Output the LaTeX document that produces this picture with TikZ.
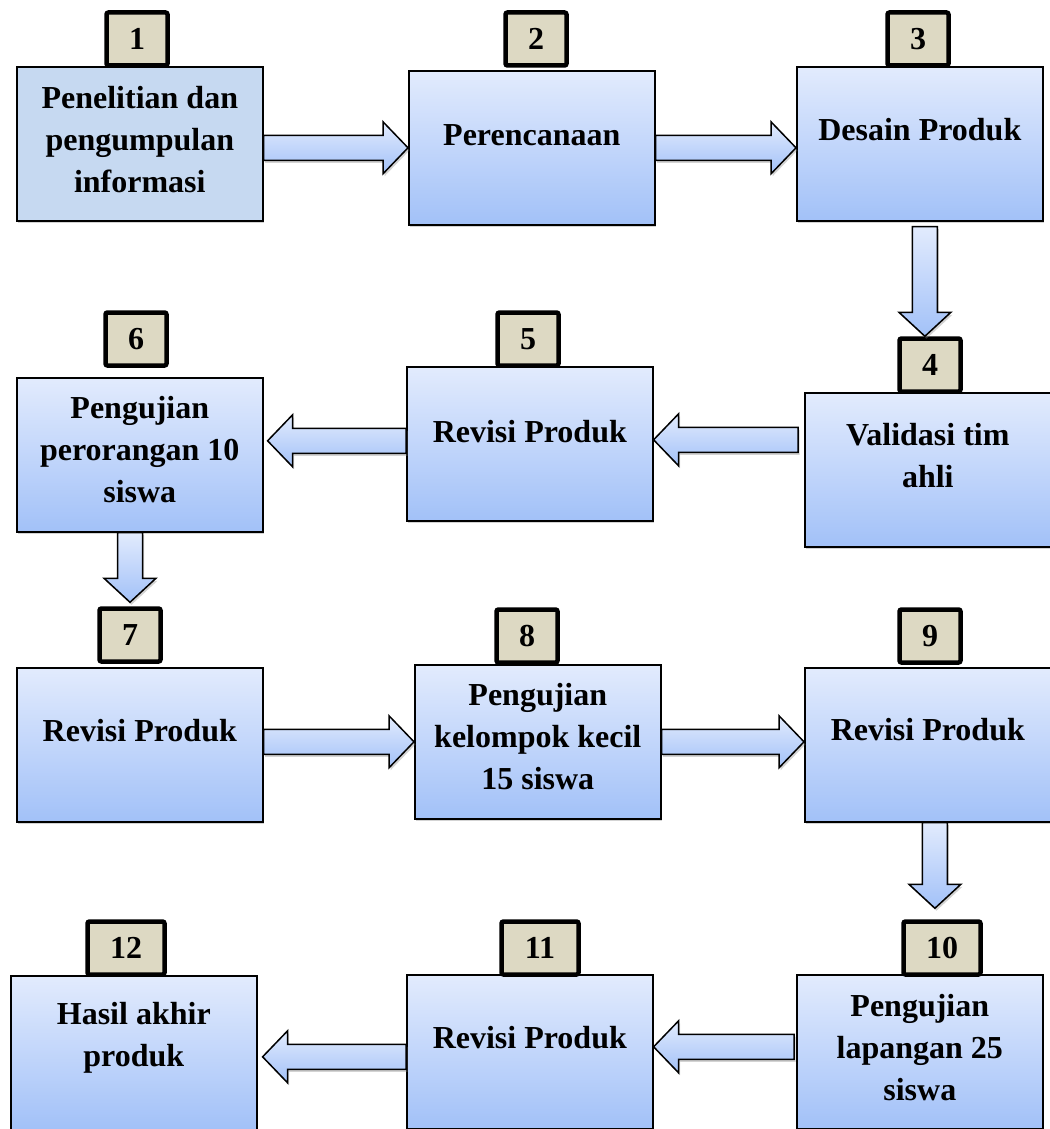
\documentclass[tikz,border=0pt]{standalone}
\usepackage{fontspec}
\setmainfont{Liberation Serif}
\usetikzlibrary{calc, shadows}
\definecolor{boxTop}{HTML}{E2EBFD}
\definecolor{boxBot}{HTML}{A2C1F8}
\definecolor{boxFlat}{HTML}{C6D9F1}
\definecolor{tagBeige}{HTML}{DDD9C3}

% block arrows: tail, tip, reference point for the axis
\newcommand{\rightblock}[3]{%
  \path[barrow] let \p1=(#1), \p2=(#2), \p3=(#3) in
    (\x1,\y3+12.5pt) -- (\x2-25pt,\y3+12.5pt) -- (\x2-25pt,\y3+26pt) -- (\x2,\y3)
    -- (\x2-25pt,\y3-26pt) -- (\x2-25pt,\y3-12.5pt) -- (\x1,\y3-12.5pt) -- cycle;}
\newcommand{\leftblock}[3]{%
  \path[barrow] let \p1=(#1), \p2=(#2), \p3=(#3) in
    (\x1,\y3+12.5pt) -- (\x2+25pt,\y3+12.5pt) -- (\x2+25pt,\y3+26pt) -- (\x2,\y3)
    -- (\x2+25pt,\y3-26pt) -- (\x2+25pt,\y3-12.5pt) -- (\x1,\y3-12.5pt) -- cycle;}
\newcommand{\downblock}[3]{%
  \path[barrow] let \p1=(#1), \p2=(#2), \p3=(#3) in
    (\x3-12.5pt,\y1) -- (\x3-12.5pt,\y2+24pt) -- (\x3-26pt,\y2+24pt) -- (\x3,\y2)
    -- (\x3+26pt,\y2+24pt) -- (\x3+12.5pt,\y2+24pt) -- (\x3+12.5pt,\y1) -- cycle;}

\begin{document}
\begin{tikzpicture}[
    x=1pt, y=-1pt,
    stagebase/.style={draw=black, line width=1.6pt, minimum width=246,
                      minimum height=154, anchor=north west, inner sep=0pt,
                      drop shadow={shadow xshift=1.5pt, shadow yshift=-2.5pt, opacity=0.35}},
    stage/.style={stagebase, top color=boxTop, bottom color=boxBot},
    stageflat/.style={stagebase, fill=boxFlat},
    stagetext/.style={align=center, inner sep=0pt,
                      font=\bfseries\fontsize{32}{42}\selectfont},
    numtag/.style={draw=black, line width=4.5pt, fill=tagBeige, rounded corners=2pt,
                   minimum width=61, minimum height=53, inner sep=0pt,
                   font=\bfseries\fontsize{32}{38}\selectfont},
    numtagwide/.style={numtag, minimum width=77},
    barrow/.style={draw=black, line width=1.5pt, top color=boxTop, bottom color=boxBot,
                   drop shadow={shadow xshift=1.5pt, shadow yshift=-2.5pt, opacity=0.35}},
  ]
  \useasboundingbox (0,0) rectangle (1049,1129);

  % boxes
  \node[stageflat] (b1) at (16,66) {};
  \node[stage] (b2) at (408,70) {};
  \node[stage] (b3) at (796,66) {};
  \node[stage] (b4) at (804,392) {};
  \node[stage] (b5) at (406,366) {};
  \node[stage] (b6) at (16,377) {};
  \node[stage] (b7) at (16,667) {};
  \node[stage] (b8) at (414,664) {};
  \node[stage] (b9) at (804,667) {};
  \node[stage] (b10) at (796,974) {};
  \node[stage] (b11) at (406,974) {};
  \node[stage] (b12) at (10,975) {};

  % texts
  \node[stagetext] (l1) at ([yshift=4pt]b1.center) {Penelitian dan\\pengumpulan\\informasi};
  \node[stagetext] (l2) at ([yshift=13pt]b2.center) {Perencanaan};
  \node[stagetext] (l3) at ([yshift=14pt]b3.center) {Desain Produk};
  \node[stagetext] (l4) at ([yshift=14pt]b4.center) {Validasi tim\\ahli};
  \node[stagetext] (l5) at ([yshift=12pt]b5.center) {Revisi Produk};
  \node[stagetext] (l6) at ([yshift=5pt]b6.center) {Pengujian\\perorangan 10\\siswa};
  \node[stagetext] (l7) at ([yshift=14pt]b7.center) {Revisi Produk};
  \node[stagetext] (l8) at ([yshift=5pt]b8.center) {Pengujian\\kelompok kecil\\15 siswa};
  \node[stagetext] (l9) at ([yshift=15pt]b9.center) {Revisi Produk};
  \node[stagetext] (l10) at ([yshift=4pt]b10.center) {Pengujian\\lapangan 25\\siswa};
  \node[stagetext] (l11) at ([yshift=14pt]b11.center) {Revisi Produk};
  \node[stagetext] (l12) at ([yshift=15pt]b12.center) {Hasil akhir\\produk};

  % number tags
  \node[numtag] (t1) at (137,39) {1};
  \node[numtag] (t2) at (536,39) {2};
  \node[numtag] (t3) at (918,39) {3};
  \node[numtag] (t4) at (930,365) {4};
  \node[numtag] (t5) at (528,339) {5};
  \node[numtag] (t6) at (136,339) {6};
  \node[numtag] (t7) at (130,635) {7};
  \node[numtag] (t8) at (527,636) {8};
  \node[numtag] (t9) at (930,636) {9};
  \node[numtagwide] (t10) at (942,948) {10};
  \node[numtagwide] (t11) at (540,948) {11};
  \node[numtagwide] (t12) at (126,948) {12};

  % arrows
  \rightblock{b1.east}{b2.west}{b2.center}
  \rightblock{b2.east}{b3.west}{b2.center}
  \downblock{[yshift=-5pt]b3.south}{t4.north}{$(b3.south)!.5!(t4.north)$}
  \leftblock{[xshift=-6pt]b4.west}{b5.east}{[yshift=4pt]b5.center}
  \leftblock{b5.west}{[xshift=4pt]b6.east}{[yshift=3pt]b5.center}
  \downblock{b6.south}{[yshift=4pt]t7.north}{t7.center}
  \rightblock{b7.east}{b8.west}{b8.center}
  \rightblock{b8.east}{b9.west}{b8.center}
  \downblock{b9.south}{[yshift=11pt]t10.north}{$(b9.south)!.5!(t10.north)$}
  \leftblock{[xshift=-2pt]b10.west}{b11.east}{[yshift=5pt]b11.center}
  \leftblock{b11.west}{[xshift=5pt]b12.east}{[yshift=-5pt]b11.center}
\end{tikzpicture}
\end{document}
